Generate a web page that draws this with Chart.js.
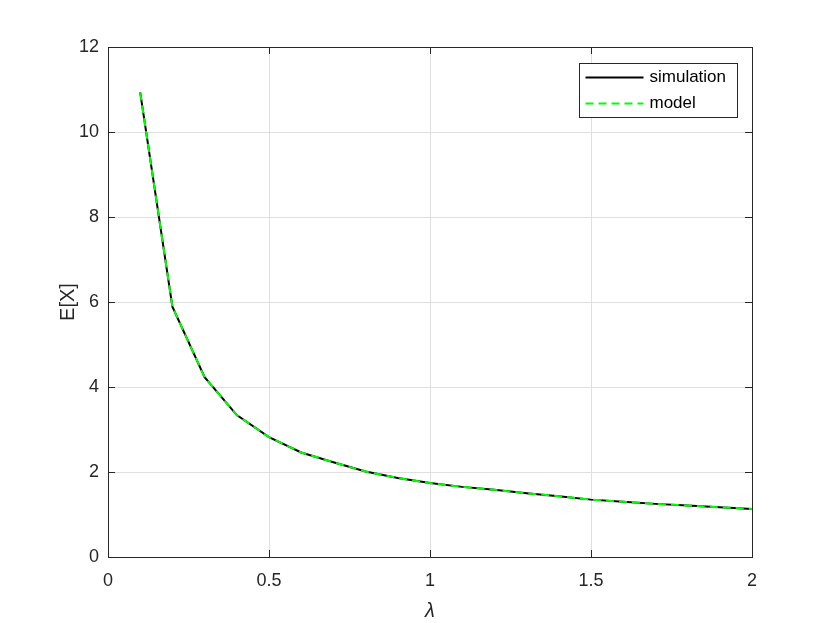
<!DOCTYPE html>
<html>
<head>
<meta charset="utf-8">
<script src="https://cdn.jsdelivr.net/npm/chart.js@4/dist/chart.umd.min.js"></script>
<style>
  html, body { margin: 0; padding: 0; background: #ffffff; }
  #wrap { width: 830px; height: 623px; }
</style>
</head>
<body>
<div id="wrap"><canvas id="c" width="830" height="623"></canvas></div>
<script>
// ---- data ----
const lambdas = [0.1, 0.2, 0.3, 0.4, 0.5, 0.6, 0.7, 0.8, 0.9, 1.0,
                 1.1, 1.2, 1.3, 1.4, 1.5, 1.6, 1.7, 1.8, 1.9, 2.0];
const simulation = [10.93, 5.89, 4.23, 3.34, 2.82, 2.46, 2.23, 2.01, 1.86, 1.74,
                    1.65, 1.58, 1.50, 1.43, 1.35, 1.30, 1.25, 1.21, 1.17, 1.13];
const model = [10.93, 5.89, 4.23, 3.34, 2.82, 2.46, 2.23, 2.01, 1.86, 1.74,
               1.65, 1.58, 1.50, 1.43, 1.35, 1.30, 1.25, 1.21, 1.17, 1.13];
const xTicks = [0, 0.5, 1, 1.5, 2];
const yTicks = [0, 2, 4, 6, 8, 10, 12];
const seriesNames = ['simulation', 'model'];
const axisTitles = { x: 'λ', y: 'E[X]' };

const AXIS_COLOR = '#262626';
const GRID_COLOR = '#dfdfdf';
const FONT = 'Liberation Sans, Arial, Helvetica, sans-serif';

const toPts = (xs, ys) => xs.map((x, i) => ({ x: x, y: ys[i] }));

// box, inward ticks, legend
const decor = {
  id: 'decor',
  afterDraw(chart) {
    const ctx = chart.ctx;
    const a = chart.chartArea;
    const xs = chart.scales.x, ys = chart.scales.y;
    const L = 7;
    ctx.save();
    ctx.strokeStyle = AXIS_COLOR;
    ctx.lineWidth = 1;
    ctx.beginPath();
    ctx.rect(Math.round(a.left) + 0.5, Math.round(a.top) + 0.5,
             Math.round(a.right - a.left), Math.round(a.bottom - a.top));
    ctx.stroke();
    ctx.beginPath();
    xTicks.forEach(v => {
      const p = Math.round(xs.getPixelForValue(v)) + 0.5;
      ctx.moveTo(p, a.bottom); ctx.lineTo(p, a.bottom - L);
      ctx.moveTo(p, a.top); ctx.lineTo(p, a.top + L);
    });
    yTicks.forEach(v => {
      const p = Math.round(ys.getPixelForValue(v)) + 0.5;
      ctx.moveTo(a.left, p); ctx.lineTo(a.left + L, p);
      ctx.moveTo(a.right, p); ctx.lineTo(a.right - L, p);
    });
    ctx.stroke();

    // legend
    const bw = 158, bh = 54;
    const bx = Math.round(a.right - 15 - bw) + 0.5;
    const by = Math.round(a.top + 16) + 0.5;
    ctx.fillStyle = '#ffffff';
    ctx.fillRect(bx, by, bw, bh);
    ctx.strokeStyle = AXIS_COLOR;
    ctx.lineWidth = 1;
    ctx.strokeRect(bx, by, bw, bh);
    const ds = chart.data.datasets;
    const rows = [ds[0], ds[1]];
    rows.forEach((d, i) => {
      const y = by + 14 + i * 26;
      ctx.beginPath();
      ctx.strokeStyle = d.borderColor;
      ctx.lineWidth = 2;
      ctx.setLineDash(d.borderDash || []);
      ctx.moveTo(bx + 6, y); ctx.lineTo(bx + 64, y);
      ctx.stroke();
      ctx.setLineDash([]);
      ctx.fillStyle = '#000000';
      ctx.font = '17px ' + FONT;
      ctx.textBaseline = 'middle';
      ctx.textAlign = 'left';
      ctx.fillText(d.label, bx + 70, y);
    });
    ctx.restore();
  }
};

new Chart(document.getElementById('c'), {
  type: 'line',
  data: {
    datasets: [
      {
        label: seriesNames[0],
        data: toPts(lambdas, simulation),
        borderColor: '#000000',
        borderWidth: 2,
        pointRadius: 0,
        tension: 0,
        fill: false,
        order: 2
      },
      {
        label: seriesNames[1],
        data: toPts(lambdas, model),
        borderColor: '#00ff00',
        borderWidth: 2,
        borderDash: [8, 5],
        pointRadius: 0,
        tension: 0,
        fill: false,
        order: 1
      }
    ]
  },
  options: {
    responsive: false,
    devicePixelRatio: 1,
    animation: false,
    layout: { padding: { top: 47, right: 78, left: 0, bottom: 0 } },
    plugins: {
      legend: { display: false },
      tooltip: { enabled: false },
      title: { display: false }
    },
    scales: {
      x: {
        type: 'linear',
        min: 0, max: 2,
        afterBuildTicks: s => { s.ticks = xTicks.map(v => ({ value: v })); },
        afterFit: s => { s.height = 66; },
        ticks: {
          color: AXIS_COLOR,
          font: { family: FONT, size: 18 },
          padding: 13,
          maxRotation: 0,
          callback: v => String(v)
        },
        grid: { color: GRID_COLOR, drawTicks: false },
        border: { display: true, color: AXIS_COLOR },
        title: {
          display: true, text: axisTitles.x, color: AXIS_COLOR,
          font: { family: FONT, size: 20, style: 'italic' },
          padding: { top: 10, bottom: 0 }
        }
      },
      y: {
        type: 'linear',
        min: 0, max: 12,
        afterBuildTicks: s => { s.ticks = yTicks.map(v => ({ value: v })); },
        afterFit: s => { s.width = 108; },
        ticks: {
          color: AXIS_COLOR,
          font: { family: FONT, size: 18 },
          padding: 9,
          callback: v => String(v)
        },
        grid: { color: GRID_COLOR, drawTicks: false },
        border: { display: true, color: AXIS_COLOR },
        title: {
          display: true, text: axisTitles.y, color: AXIS_COLOR,
          font: { family: FONT, size: 20 },
          padding: { top: 56, bottom: 0 }
        }
      }
    }
  },
  plugins: [decor]
});
</script>
</body>
</html>
